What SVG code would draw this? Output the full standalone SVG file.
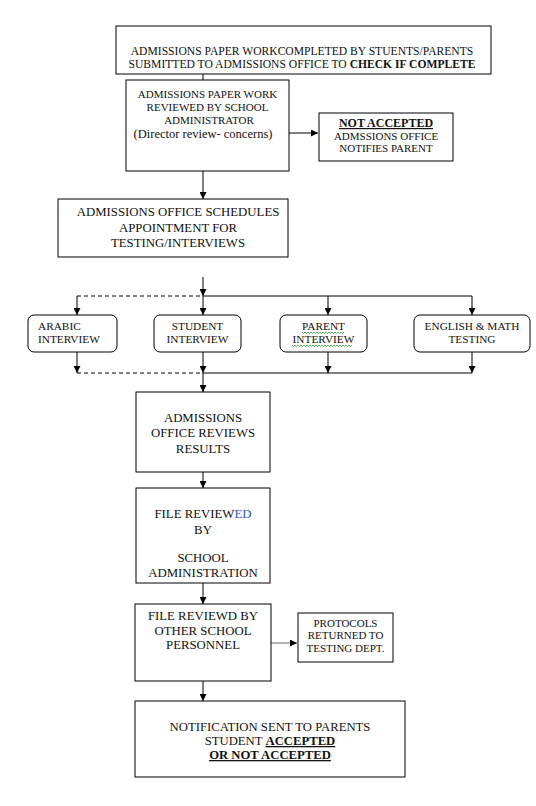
<svg xmlns="http://www.w3.org/2000/svg" width="536" height="806" viewBox="0 0 536 806">
<defs>
<marker id="ah" viewBox="0 0 10 10" refX="10" refY="5" markerWidth="7" markerHeight="7" markerUnits="userSpaceOnUse" orient="auto">
<path d="M0,0 L10,5 L0,10 z" fill="#000"/>
</marker>
</defs>
<style>
.box{fill:#fff;stroke:#000;stroke-width:1}
.t{font-family:"Liberation Serif","Times New Roman",serif;fill:#111;text-anchor:middle}
.l{text-anchor:start}
.b{font-weight:bold}
.u{text-decoration:underline}
.c{fill:none;stroke:#000;stroke-width:1}
.a{marker-end:url(#ah)}
.d{stroke-dasharray:4,3}
.sq{fill:none;stroke:#2a9a2a;stroke-width:0.8}
</style>
<rect width="536" height="806" fill="#fff"/>

<g id="connectors">
<line class="c" x1="203" y1="74" x2="203" y2="80"/>
<line class="c a" x1="289" y1="133" x2="318" y2="133"/>
<line class="c a" x1="203" y1="171" x2="203" y2="199"/>
<line class="c a" x1="203" y1="277" x2="203" y2="296"/>
<line class="c d" x1="77" y1="296" x2="203" y2="296"/>
<line class="c" x1="203" y1="296" x2="472" y2="296"/>
<line class="c a" x1="77" y1="296" x2="77" y2="315"/>
<line class="c a" x1="203" y1="296" x2="203" y2="315"/>
<line class="c a" x1="328" y1="296" x2="328" y2="315"/>
<line class="c a" x1="472" y1="296" x2="472" y2="315"/>
<line class="c a" x1="77" y1="352" x2="77" y2="373"/>
<line class="c a" x1="203" y1="352" x2="203" y2="373"/>
<line class="c a" x1="328" y1="352" x2="328" y2="373"/>
<line class="c a" x1="472" y1="352" x2="472" y2="373"/>
<line class="c d" x1="77" y1="373" x2="203" y2="373"/>
<line class="c" x1="203" y1="373" x2="472" y2="373"/>
<line class="c a" x1="203" y1="373" x2="203" y2="392"/>
<line class="c a" x1="203" y1="472" x2="203" y2="488"/>
<line class="c a" x1="203" y1="583" x2="203" y2="604"/>
<line class="c a" x1="271" y1="643" x2="297" y2="643" style="stroke:#666"/>
<line class="c a" x1="203" y1="681" x2="203" y2="701"/>
</g>

<g id="n1">
<rect class="box" x="116" y="26" width="375" height="48"/>
<text class="t" x="302" y="55" font-size="11.6">ADMISSIONS PAPER WORKCOMPLETED BY  STUENTS/PARENTS</text>
<text class="t" x="302" y="68" font-size="11.6">SUBMITTED TO ADMISSIONS OFFICE TO <tspan class="b">CHECK IF COMPLETE</tspan></text>
</g>

<g id="n2">
<rect class="box" x="126" y="80" width="163" height="91"/>
<text class="t" x="207.5" y="98" font-size="11">ADMISSIONS PAPER WORK</text>
<text class="t" x="207.5" y="111" font-size="11">REVIEWED BY SCHOOL</text>
<text class="t" x="209" y="124" font-size="11">ADMINISTRATOR</text>
<text class="t" x="203" y="138" font-size="12.5">(Director review- concerns)</text>
</g>

<g id="n3">
<rect class="box" x="319" y="113" width="134" height="48"/>
<text class="t b u" x="386" y="127" font-size="12">NOT ACCEPTED</text>
<text class="t" x="386" y="140" font-size="11">ADMSSIONS OFFICE</text>
<text class="t" x="386" y="152" font-size="11">NOTIFIES PARENT</text>
</g>

<g id="n4">
<rect class="box" x="58" y="199" width="230" height="58"/>
<text class="t" x="178" y="216" font-size="12.8">ADMISSIONS OFFICE SCHEDULES</text>
<text class="t" x="178" y="232" font-size="12.8">APPOINTMENT FOR</text>
<text class="t" x="178" y="247" font-size="12.8">TESTING/INTERVIEWS</text>
</g>

<g id="n5">
<rect class="box" x="28" y="315" width="89" height="37" rx="6"/>
<text class="t l" x="38" y="330" font-size="11.3">ARABIC</text>
<text class="t l" x="38" y="343" font-size="11.3">INTERVIEW</text>
</g>

<g id="n6">
<rect class="box" x="154" y="315" width="87" height="37" rx="6"/>
<text class="t" x="197.5" y="330" font-size="11.3">STUDENT</text>
<text class="t" x="197.5" y="343" font-size="11.3">INTERVIEW</text>
</g>

<g id="n7">
<rect class="box" x="280" y="315" width="87" height="37" rx="6"/>
<text class="t" x="323.5" y="330" font-size="11.3">PARENT</text>
<text class="t" x="323.5" y="343" font-size="11.3">INTERVIEW</text>
<path class="sq" d="M302,332 l1.5,1.5 l1.5,-1.5 l1.5,1.5 l1.5,-1.5 l1.5,1.5 l1.5,-1.5 l1.5,1.5 l1.5,-1.5 l1.5,1.5 l1.5,-1.5 l1.5,1.5 l1.5,-1.5 l1.5,1.5 l1.5,-1.5 l1.5,1.5 l1.5,-1.5 l1.5,1.5 l1.5,-1.5 l1.5,1.5 l1.5,-1.5 l1.5,1.5 l1.5,-1.5 l1.5,1.5 l1.5,-1.5 l1.5,1.5 l1.5,-1.5 l1.5,1.5 l1.5,-1.5"/>
<path class="sq" d="M292,345 l1.5,1.5 l1.5,-1.5 l1.5,1.5 l1.5,-1.5 l1.5,1.5 l1.5,-1.5 l1.5,1.5 l1.5,-1.5 l1.5,1.5 l1.5,-1.5 l1.5,1.5 l1.5,-1.5 l1.5,1.5 l1.5,-1.5 l1.5,1.5 l1.5,-1.5 l1.5,1.5 l1.5,-1.5 l1.5,1.5 l1.5,-1.5 l1.5,1.5 l1.5,-1.5 l1.5,1.5 l1.5,-1.5 l1.5,1.5 l1.5,-1.5 l1.5,1.5 l1.5,-1.5 l1.5,1.5 l1.5,-1.5 l1.5,1.5 l1.5,-1.5 l1.5,1.5 l1.5,-1.5 l1.5,1.5 l1.5,-1.5 l1.5,1.5 l1.5,-1.5 l1.5,1.5 l1.5,-1.5"/>
</g>

<g id="n8">
<rect class="box" x="414" y="315" width="116" height="37" rx="6"/>
<text class="t" x="472" y="330" font-size="11.3">ENGLISH &amp; MATH</text>
<text class="t" x="472" y="343" font-size="11.3">TESTING</text>
</g>

<g id="n9">
<rect class="box" x="136" y="392" width="134" height="80"/>
<text class="t" x="203" y="422" font-size="12.8">ADMISSIONS</text>
<text class="t" x="203" y="437" font-size="12.8">OFFICE REVIEWS</text>
<text class="t" x="203" y="453" font-size="12.8">RESULTS</text>
</g>

<g id="n10">
<rect class="box" x="136" y="488" width="134" height="95"/>
<text class="t" x="203" y="518" font-size="12.8">FILE REVIEW<tspan fill="#2f55d4">ED</tspan></text>
<text class="t" x="203" y="534" font-size="12.8">BY</text>
<text class="t" x="203" y="562" font-size="12.8">SCHOOL</text>
<text class="t" x="203" y="577" font-size="12.8">ADMINISTRATION</text>
</g>

<g id="n11">
<rect class="box" x="135" y="604" width="136" height="77"/>
<text class="t" x="203" y="620" font-size="12.8">FILE REVIEWD BY</text>
<text class="t" x="203" y="635" font-size="12.8">OTHER SCHOOL</text>
<text class="t" x="203" y="649" font-size="12.8">PERSONNEL</text>
</g>

<g id="n12">
<rect class="box" x="298" y="613" width="95" height="49"/>
<text class="t" x="345.5" y="627" font-size="11">PROTOCOLS</text>
<text class="t" x="345.5" y="639" font-size="11">RETURNED TO</text>
<text class="t" x="345.5" y="652" font-size="11">TESTING DEPT.</text>
</g>

<g id="n13">
<rect class="box" x="135" y="701" width="270" height="76"/>
<text class="t" x="270" y="731" font-size="12.7">NOTIFICATION SENT TO PARENTS</text>
<text class="t" x="270" y="745" font-size="12.7">STUDENT <tspan class="b u">ACCEPTED</tspan></text>
<text class="t b u" x="270" y="759" font-size="12.7">OR NOT ACCEPTED</text>
</g>
</svg>
